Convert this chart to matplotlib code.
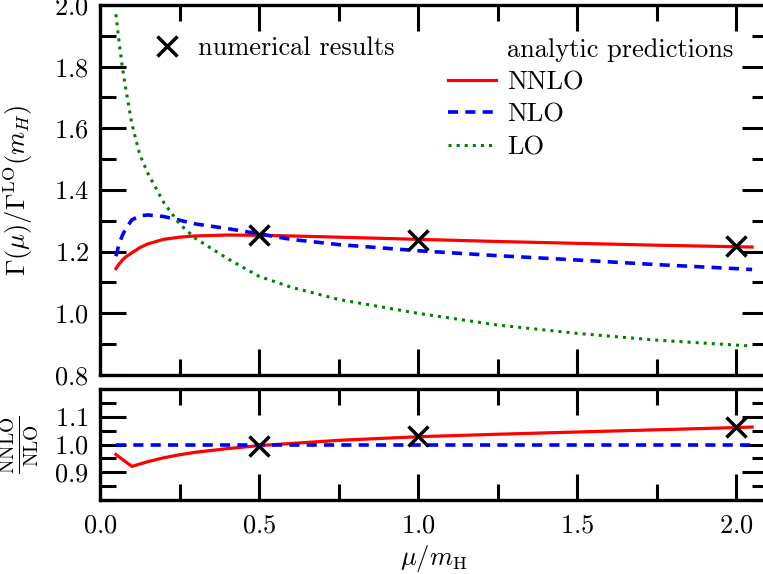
import matplotlib
matplotlib.use('Agg')
import matplotlib.pyplot as plt
from matplotlib.lines import Line2D
from matplotlib.ticker import MultipleLocator

plt.rcParams['font.family'] = 'cmr10'
plt.rcParams['mathtext.fontset'] = 'cm'
plt.rcParams['axes.formatter.use_mathtext'] = True
plt.rcParams['font.size'] = 19

# scale mu / m_H
mu = [0.05, 0.06, 0.07, 0.08, 0.1, 0.125, 0.15, 0.2, 0.25, 0.3, 0.4, 0.5,
      0.6, 0.75, 1.0, 1.25, 1.5, 1.75, 2.0, 2.05]
lo = [1.97, 1.88, 1.80, 1.735, 1.615, 1.515, 1.455, 1.36, 1.29, 1.243, 1.178, 1.12,
      1.085, 1.045, 1.0, 0.962, 0.935, 0.913, 0.897, 0.894]
nlo = [1.185, 1.225, 1.252, 1.273, 1.303, 1.316, 1.319, 1.314, 1.302, 1.29, 1.275, 1.258,
       1.240, 1.223, 1.203, 1.187, 1.173, 1.158, 1.145, 1.142]
nnlo = [1.145, 1.16, 1.172, 1.182, 1.196, 1.213, 1.225, 1.240, 1.247, 1.251, 1.254, 1.253,
        1.251, 1.247, 1.240, 1.233, 1.227, 1.221, 1.216, 1.215]

# ratio panel (coarser grid)
mu_r = [0.05, 0.1, 0.15, 0.2, 0.25, 0.3, 0.4, 0.5, 0.75, 1.0, 1.25, 1.5, 1.75, 2.0, 2.05]
ratio_nnlo = [0.964, 0.921, 0.938, 0.952, 0.963, 0.972, 0.985, 0.996, 1.015, 1.028,
              1.037, 1.045, 1.053, 1.061, 1.063]
ratio_nlo = [1.0] * len(mu_r)

# numerical results
num_mu = [0.5, 1.0, 2.0]
num_gamma = [1.253, 1.238, 1.218]
num_ratio = [0.996, 1.031, 1.062]

W, H = 763, 574
fig = plt.figure(figsize=(W / 100, H / 100), dpi=100)


def box(l, t, r, b):
    return [l / W, 1 - b / H, (r - l) / W, (b - t) / H]


ax = fig.add_axes(box(100, 5, 768, 375))
axr = fig.add_axes(box(100, 389, 768, 500))

for a in (ax, axr):
    a.set_xlim(0, 2.1)
    a.xaxis.set_major_locator(MultipleLocator(0.5))
    a.xaxis.set_minor_locator(MultipleLocator(0.25))
    a.tick_params(which='both', direction='in', top=True, right=True, width=2.2)
    a.tick_params(which='major', length=18.5)
    a.tick_params(which='minor', length=11.5)
    a.tick_params(axis='y', pad=8)
    a.tick_params(axis='x', pad=10)
    for s in a.spines.values():
        s.set_linewidth(2.4)

ax.set_ylim(0.8, 2.0)
ax.yaxis.set_major_locator(MultipleLocator(0.2))
ax.yaxis.set_minor_locator(MultipleLocator(0.1))
ax.tick_params(labelbottom=False)

axr.set_ylim(0.8, 1.2)
axr.set_yticks([0.9, 1.0, 1.1])
axr.yaxis.set_minor_locator(MultipleLocator(0.05))

ax.plot(mu, nnlo, color='red', lw=2.3, label='NNLO')
ax.plot(mu, nlo, color='blue', lw=2.6, dashes=(2.8, 2.0), label='NLO')
ax.plot(mu, lo, color='green', lw=2.2, ls=':', label='LO')
ax.plot(num_mu, num_gamma, 'x', color='black', ms=14, mew=2.5, zorder=5)

axr.plot(mu_r, ratio_nnlo, color='red', lw=2.3)
axr.plot(mu_r, ratio_nlo, color='blue', lw=2.6, dashes=(2.8, 2.0))
axr.plot(num_mu, num_ratio, 'x', color='black', ms=14, mew=2.5, zorder=5)

ax.set_ylabel(r'$\Gamma(\mu)/\Gamma^{\rm LO}(m_H)$')
axr.set_ylabel(r'$\frac{\rm NNLO}{\rm NLO}$', fontsize=20)
axr.set_xlabel(r'$\mu/m_{\rm H}$', labelpad=4)
ax.yaxis.set_label_coords(-0.097, 0.5)
axr.yaxis.set_label_coords(-0.088, 0.5)

h_num = Line2D([], [], ls='none', marker='x', color='black', ms=14, mew=2.5)
leg1 = ax.legend([h_num], ['numerical results'], frameon=False, loc='center left',
                 bbox_to_anchor=(143 / W, 1 - 48 / H), bbox_transform=fig.transFigure,
                 borderpad=0, borderaxespad=0, handlelength=1.8, handletextpad=0.3)
ax.add_artist(leg1)

blank = Line2D([], [], ls='none')
hs, ls_ = ax.get_legend_handles_labels()
ax.legend([blank] + hs, ['analytic predictions'] + ls_, frameon=False, loc='upper left',
          bbox_to_anchor=(448 / W, 1 - 38 / H), bbox_transform=fig.transFigure,
          borderpad=0, borderaxespad=0, handlelength=1.8, handletextpad=0.45,
          labelspacing=0.33)

fig.savefig('out.png', dpi=100)
